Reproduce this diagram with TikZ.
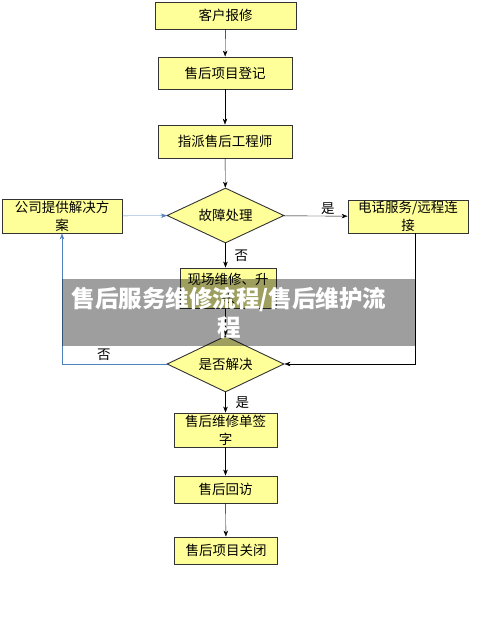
\documentclass[tikz,border=0pt]{standalone}
\usepackage{fontspec}
\setmainfont{Noto Sans CJK SC}
\usetikzlibrary{shapes.geometric,arrows.meta}
\definecolor{boxyellow}{RGB}{255,255,153}
\definecolor{loopblue}{RGB}{79,129,189}
\begin{document}
\begin{tikzpicture}[x=1pt, y=-1pt, >={Stealth[length=6pt,width=4.5pt]},
    every node/.style={align=center, font=\fontsize{13.5}{18}\selectfont},
    procbox/.style={draw=black!80, fill=boxyellow, line width=0.9pt, inner sep=0pt},
    decision/.style={draw=black!80, fill=boxyellow, diamond, aspect=2.1, inner sep=0pt, line width=0.9pt}]
    \useasboundingbox (0,0) rectangle (481,626);

    \node[procbox, minimum width=141, minimum height=27] (report) at (225.5,15.5) {客户报修};
    \node[procbox, minimum width=134, minimum height=32] (register) at (225,73) {售后项目登记};
    \node[procbox, minimum width=134, minimum height=33] (assign) at (225,141.5) {指派售后工程师};
    \node[decision, minimum width=117, minimum height=55] (fault) at (225.5,215.5) {故障处理};
    \node[procbox, minimum width=120, minimum height=34] (company) at (62,216) {公司提供解决方\\案};
    \node[procbox, minimum width=120, minimum height=33] (remote) at (408,216.5) {电话服务/远程连\\接};
    \node[procbox, minimum width=96, minimum height=40] (onsite) at (228,288) {现场维修、升\\级};
    \node[decision, minimum width=117, minimum height=56] (solved) at (225.5,364) {是否解决};
    \node[procbox, minimum width=103, minimum height=34] (sign) at (225.5,430) {售后维修单签\\字};
    \node[procbox, minimum width=103, minimum height=27] (visit) at (225.5,489.5) {售后回访};
    \node[procbox, minimum width=103, minimum height=27] (close) at (226,550.5) {售后项目关闭};

    \draw[->] (report) -- (register);
    \draw[->] (register) -- (assign);
    \draw[->] (assign) -- (fault);
    \draw[->] (fault) -- node[above, pos=0.69, inner sep=1pt] {是} (remote);
    \draw[->] (fault) -- node[right, inner sep=9pt] {否} (fault |- onsite.north);
    \draw[->] (fault |- onsite.south) -- (solved);
    \draw[->] ([xshift=7]remote.south) |- (solved.east);
    \draw[->, loopblue] (solved.west) -| node[pos=0.3, above, text=black] {否} (company.south);
    \draw[->, loopblue] (company) -- (fault);
    \draw[->] (solved) -- node[right, inner sep=10pt] {是} (sign);
    \draw[->] (sign) -- (visit);
    \draw[->] (visit) -- (close);

    \fill[black, opacity=0.38] (62,279) rectangle (415,346);
    \node[text=white, font=\fontsize{23.5}{29}\selectfont\bfseries] (banner) at (229,312.5) {售后服务维修流程/售后维护流\\程};
\end{tikzpicture}
\end{document}
